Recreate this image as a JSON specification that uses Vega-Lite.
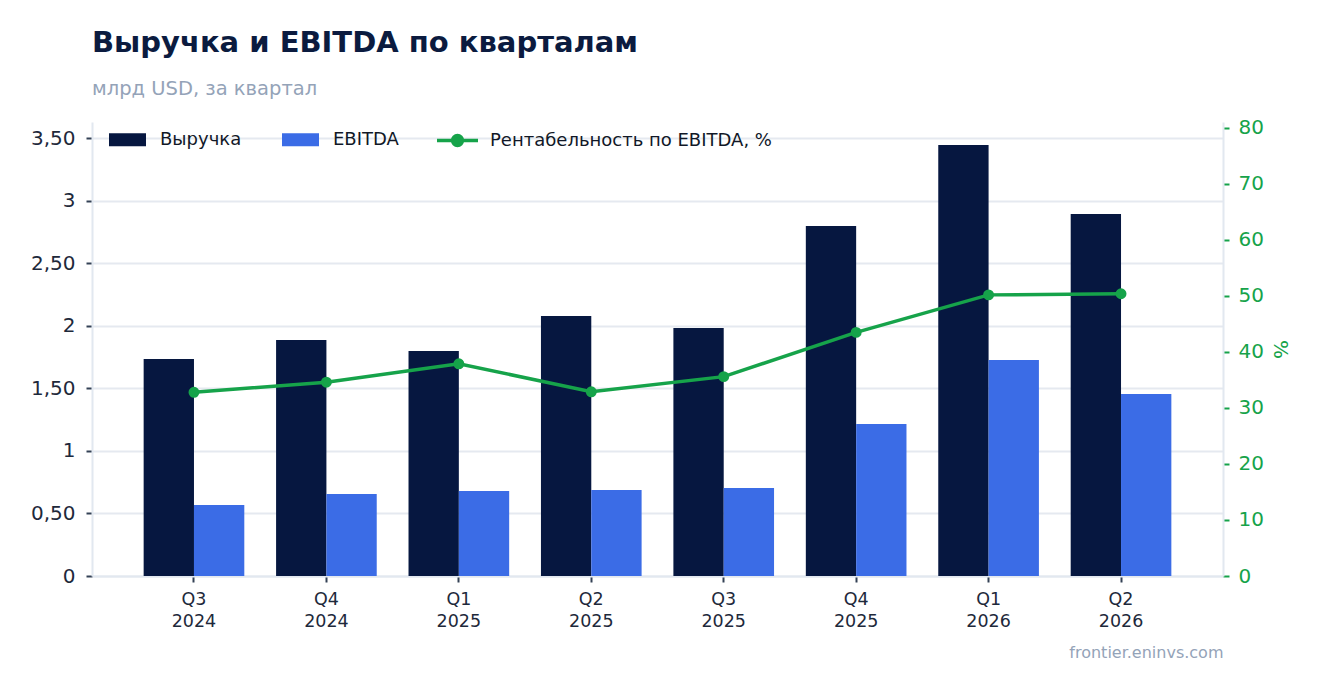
{
  "$schema": "https://vega.github.io/schema/vega-lite/v6.json",
  "width": 1131,
  "height": 454,
  "autosize": {"type": "none"},
  "padding": {"left": 92, "top": 122, "right": 100, "bottom": 117},
  "background": "white",
  "config": {
    "font": "DejaVu Sans",
    "view": {"stroke": null}
  },
  "title": {
    "text": "Выручка и EBITDA по кварталам",
    "subtitle": "млрд USD, за квартал",
    "anchor": "start",
    "frame": "group",
    "font": "DejaVu Sans",
    "fontSize": 29,
    "fontWeight": "bold",
    "color": "#0B1B3F",
    "subtitleFont": "DejaVu Sans",
    "subtitleFontSize": 19.5,
    "subtitleColor": "#94A3B8",
    "subtitlePadding": 22,
    "offset": 19
  },
  "datasets": {
    "bars": [
      {"q": "Q3 2024", "series": "Выручка", "value": 1.734},
      {"q": "Q3 2024", "series": "EBITDA", "value": 0.567},
      {"q": "Q4 2024", "series": "Выручка", "value": 1.886},
      {"q": "Q4 2024", "series": "EBITDA", "value": 0.655},
      {"q": "Q1 2025", "series": "Выручка", "value": 1.798},
      {"q": "Q1 2025", "series": "EBITDA", "value": 0.679},
      {"q": "Q2 2025", "series": "Выручка", "value": 2.078},
      {"q": "Q2 2025", "series": "EBITDA", "value": 0.687},
      {"q": "Q3 2025", "series": "Выручка", "value": 1.982},
      {"q": "Q3 2025", "series": "EBITDA", "value": 0.703},
      {"q": "Q4 2025", "series": "Выручка", "value": 2.797},
      {"q": "Q4 2025", "series": "EBITDA", "value": 1.215},
      {"q": "Q1 2026", "series": "Выручка", "value": 3.444},
      {"q": "Q1 2026", "series": "EBITDA", "value": 1.726},
      {"q": "Q2 2026", "series": "Выручка", "value": 2.893},
      {"q": "Q2 2026", "series": "EBITDA", "value": 1.454}
    ],
    "margin": [
      {"q": "Q3 2024", "margin": 32.8},
      {"q": "Q4 2024", "margin": 34.6},
      {"q": "Q1 2025", "margin": 37.9},
      {"q": "Q2 2025", "margin": 32.9},
      {"q": "Q3 2025", "margin": 35.6},
      {"q": "Q4 2025", "margin": 43.5},
      {"q": "Q1 2026", "margin": 50.2},
      {"q": "Q2 2026", "margin": 50.4}
    ]
  },
  "layer": [
    {
      "data": {"name": "bars"},
      "mark": {"type": "bar"},
      "encoding": {
        "x": {
          "field": "q",
          "type": "nominal",
          "sort": ["Q3 2024", "Q4 2024", "Q1 2025", "Q2 2025", "Q3 2025", "Q4 2025", "Q1 2026", "Q2 2026"],
          "scale": {"paddingInner": 0.24, "paddingOuter": 0.39},
          "axis": {
            "labelExpr": "split(datum.label, ' ')",
            "labelAngle": 0,
            "labelFontSize": 17.5,
            "labelColor": "#1E293B",
            "labelLineHeight": 22,
            "labelPadding": 8,
            "tickColor": "#334155",
            "tickSize": 6,
            "tickWidth": 2,
            "domainColor": "#E2E8F0",
            "domainWidth": 2,
            "title": "frontier.eninvs.com",
            "titleAnchor": "end",
            "titleAlign": "right",
            "titleFontWeight": "normal",
            "titleFontSize": 16,
            "titleColor": "#94A3B8",
            "titlePadding": 15
          }
        },
        "xOffset": {
          "field": "series",
          "type": "nominal",
          "sort": ["Выручка", "EBITDA"],
          "scale": {"paddingInner": 0, "paddingOuter": 0}
        },
        "y": {
          "field": "value",
          "type": "quantitative",
          "scale": {"domain": [0, 3.628], "nice": false, "zero": true},
          "axis": {
            "values": [0, 0.5, 1, 1.5, 2, 2.5, 3, 3.5],
            "labelExpr": "datum.value % 1 === 0 ? format(datum.value, 'd') : replace(format(datum.value, '.2f'), '.', ',')",
            "labelFontSize": 20,
            "labelColor": "#1E293B",
            "labelPadding": 11,
            "tickColor": "#334155",
            "tickSize": 6,
            "tickWidth": 2,
            "domainColor": "#E2E8F0",
            "domainWidth": 2,
            "grid": true,
            "gridColor": "#E5E9F0",
            "gridWidth": 2,
            "title": null
          }
        },
        "fill": {
          "field": "series",
          "type": "nominal",
          "scale": {"domain": ["Выручка", "EBITDA"], "range": ["#061740", "#3B6CE6"]},
          "legend": {
            "orient": "none",
            "legendX": 17,
            "legendY": -1,
            "direction": "horizontal",
            "title": null,
            "padding": 0,
            "symbolType": "M-1,-0.35H1V0.35H-1Z",
            "symbolSize": 1369,
            "symbolStrokeWidth": 0,
            "symbolOpacity": 1,
            "labelFontSize": 18,
            "labelColor": "#111827",
            "labelOffset": 14,
            "labelLimit": 0,
            "columnPadding": 40
          }
        }
      }
    },
    {
      "data": {"name": "margin"},
      "mark": {
        "type": "line",
        "strokeWidth": 3.5,
        "point": {"filled": true, "size": 80, "color": "#16A34A"}
      },
      "encoding": {
        "x": {
          "field": "q",
          "type": "nominal",
          "sort": ["Q3 2024", "Q4 2024", "Q1 2025", "Q2 2025", "Q3 2025", "Q4 2025", "Q1 2026", "Q2 2026"]
        },
        "y": {
          "field": "margin",
          "type": "quantitative",
          "scale": {"domain": [0, 81.07], "nice": false, "zero": true},
          "axis": {
            "orient": "right",
            "values": [0, 10, 20, 30, 40, 50, 60, 70, 80],
            "labelFontSize": 20,
            "labelColor": "#16A34A",
            "labelPadding": 9,
            "tickColor": "#16A34A",
            "tickSize": 6,
            "tickWidth": 2,
            "domainColor": "#E2E8F0",
            "domainWidth": 2,
            "grid": false,
            "title": "%",
            "titleColor": "#16A34A",
            "titleFontSize": 20,
            "titleFontWeight": "normal",
            "titlePadding": 6
          }
        },
        "stroke": {
          "datum": "Рентабельность по EBITDA, %",
          "type": "nominal",
          "scale": {"range": ["#16A34A"]},
          "legend": {
            "orient": "none",
            "legendX": 343,
            "legendY": -4,
            "direction": "horizontal",
            "title": null,
            "padding": 0,
            "symbolType": "M-1,0H1M-0.24,0A0.24,0.24,0,1,0,0.24,0A0.24,0.24,0,1,0,-0.24,0Z",
            "symbolSize": 1681,
            "symbolStrokeWidth": 3.5,
            "symbolFillColor": "#16A34A",
            "symbolStrokeColor": "#16A34A",
            "labelFontSize": 18,
            "labelColor": "#111827",
            "labelOffset": 10,
            "labelLimit": 0
          }
        }
      }
    }
  ],
  "resolve": {"scale": {"y": "independent"}}
}
